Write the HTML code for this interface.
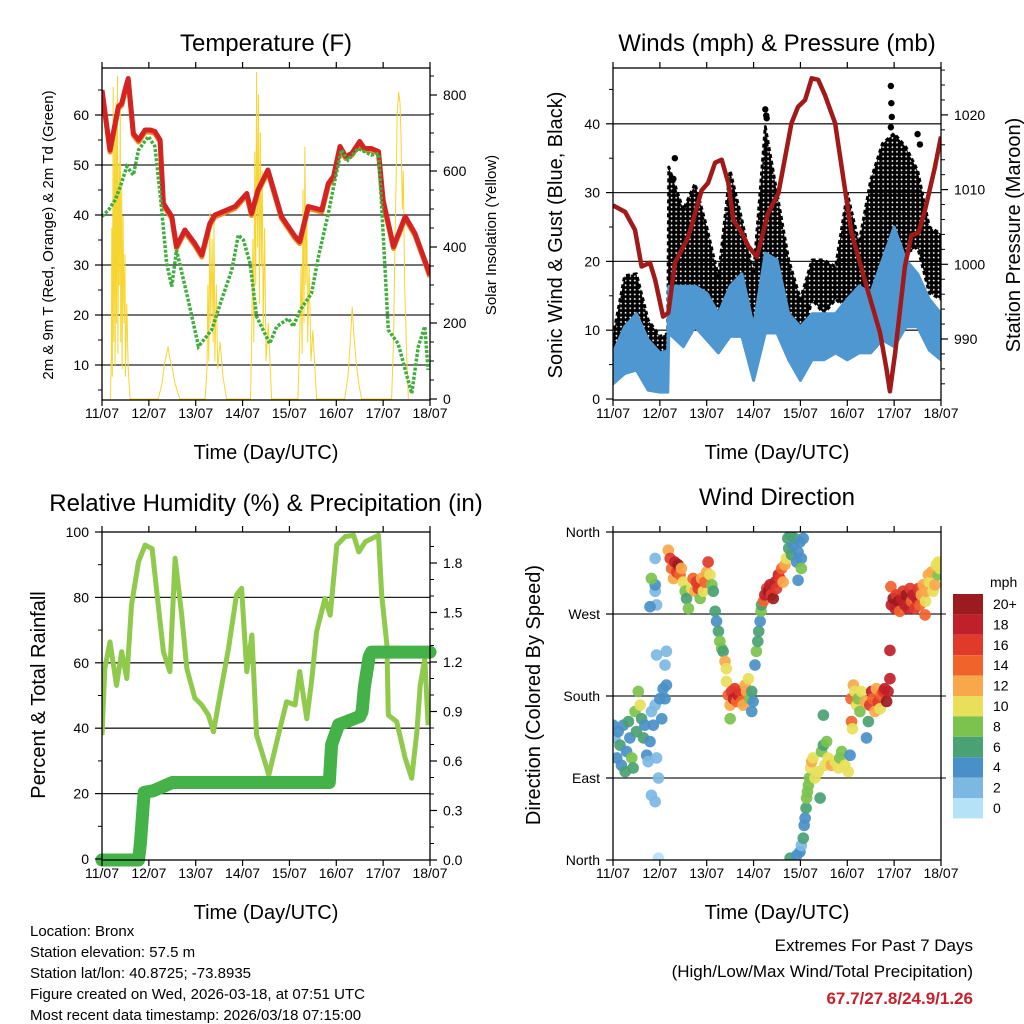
<!DOCTYPE html>
<html><head><meta charset="utf-8"><style>
html,body{margin:0;padding:0;background:#fff;}
svg{display:block;font-family:"Liberation Sans",Arial,sans-serif;}
</style></head><body>
<svg id="fig" width="1024" height="1024" viewBox="0 0 1024 1024" xmlns="http://www.w3.org/2000/svg">
<rect x="0" y="0" width="1024" height="1024" fill="#fff"/>
<defs>
<clipPath id="c1"><rect x="102" y="68" width="328" height="332"/></clipPath>
<clipPath id="c2"><rect x="613" y="68" width="328" height="332"/></clipPath>
<clipPath id="c3"><rect x="102" y="532" width="328" height="328"/></clipPath>
<clipPath id="c4"><rect x="613" y="532" width="328" height="328"/></clipPath>
<pattern id="dots" width="4.6" height="4.6" patternUnits="userSpaceOnUse"><circle cx="2.3" cy="2.3" r="2.5" fill="#000"/></pattern>
</defs>
<text x="266" y="51" font-size="24" text-anchor="middle">Temperature (F)</text>
<text x="777" y="51" font-size="24" text-anchor="middle">Winds (mph) &amp; Pressure (mb)</text>
<text x="266" y="511" font-size="24" text-anchor="middle">Relative Humidity (%) &amp; Precipitation (in)</text>
<text x="777" y="505" font-size="24" text-anchor="middle">Wind Direction</text>
<text x="266" y="459" font-size="20" text-anchor="middle">Time (Day/UTC)</text>
<text x="777" y="459" font-size="20" text-anchor="middle">Time (Day/UTC)</text>
<text x="266" y="919" font-size="20" text-anchor="middle">Time (Day/UTC)</text>
<text x="777" y="919" font-size="20" text-anchor="middle">Time (Day/UTC)</text>
<text transform="translate(53,235) rotate(-90)" font-size="15" text-anchor="middle">2m &amp; 9m T (Red, Orange) &amp; 2m Td (Green)</text>
<text transform="translate(496,235) rotate(-90)" font-size="15" text-anchor="middle">Solar Insolation (Yellow)</text>
<text transform="translate(562,235) rotate(-90)" font-size="20" text-anchor="middle">Sonic Wind &amp; Gust (Blue, Black)</text>
<text transform="translate(1020,235) rotate(-90)" font-size="20" text-anchor="middle">Station Pressure (Maroon)</text>
<text transform="translate(45,695) rotate(-90)" font-size="20" text-anchor="middle">Percent &amp; Total Rainfall</text>
<text transform="translate(540,695) rotate(-90)" font-size="20" text-anchor="middle">Direction (Colored By Speed)</text>
<g font-size="15">
<text x="30" y="936">Location: Bronx</text>
<text x="30" y="957">Station elevation: 57.5 m</text>
<text x="30" y="978">Station lat/lon: 40.8725; -73.8935</text>
<text x="30" y="999">Figure created on Wed, 2026-03-18, at 07:51 UTC</text>
<text x="30" y="1020">Most recent data timestamp: 2026/03/18 07:15:00</text>
</g>
<g font-size="17" text-anchor="end">
<text x="973" y="951">Extremes For Past 7 Days</text>
<text x="973" y="977">(High/Low/Max Wind/Total Precipitation)</text>
<text x="973" y="1004" fill="#c8202a" font-weight="bold">67.7/27.8/24.9/1.26</text>
</g>
<g id="layer"></g>
</svg>
<script>
// ---------- data ----------
const dayLabels=["11/07","12/07","13/07","14/07","15/07","16/07","17/07","18/07"];
const tT=[0,0.17,0.35,0.42,0.49,0.56,0.67,0.78,0.92,1.03,1.13,1.24,1.31,1.49,1.59,1.77,1.98,2.13,2.3,2.41,2.84,3.09,3.19,3.33,3.54,3.83,4.12,4.22,4.4,4.69,4.83,4.94,5.08,5.2,5.33,5.5,5.6,5.75,5.9,6.0,6.22,6.47,6.68,6.86,7.0];
const tempV=[65,53,61.7,62.3,65,67.3,56.3,55,57,57,56.7,55,42.3,39.7,33.7,37,34.3,32,38.3,40,41.7,44.3,40.3,45,49,39.7,35.7,34.7,41.7,41,46.3,47.7,53.7,51.7,52.3,54.7,53.3,53.3,52.7,43,33.7,39.7,36.3,31.7,28];
const tdT=[0,0.14,0.28,0.39,0.53,0.67,0.78,0.99,1.13,1.24,1.38,1.49,1.59,1.84,2.06,2.34,2.55,2.77,2.91,3.02,3.16,3.3,3.58,3.73,3.98,4.08,4.23,4.47,4.62,4.83,4.97,5.11,5.25,5.47,5.75,5.9,5.97,6.11,6.32,6.61,6.75,6.89,6.96];
const tdV=[39.7,41,43,45.7,49.7,48,53,55.7,53.7,44.3,30.3,25.7,33,23,13.7,17,23,29,36,35,30.3,19.7,14.3,17.7,19.3,17.7,21,24.3,31.7,40.3,47,53,51,53.3,52,52.3,41.7,17,14.3,4.3,13.7,17.7,9];
const solarT=[0.18,0.2,0.21,0.22,0.24,0.25,0.27,0.28,0.3,0.31,0.33,0.34,0.36,0.37,0.39,0.4,0.42,0.43,0.45,0.47,0.49,0.5,0.53,0.56,0.6,
1.2,1.28,1.33,1.38,1.41,1.44,1.5,1.56,1.66,
2.2,2.24,2.26,2.28,2.3,2.32,2.35,2.37,2.39,2.41,2.44,2.47,2.52,2.58,2.66,
3.17,3.2,3.22,3.24,3.26,3.28,3.3,3.32,3.34,3.36,3.38,3.4,3.42,3.44,3.47,3.5,3.55,3.62,
4.18,4.22,4.25,4.27,4.29,4.31,4.33,4.35,4.37,4.39,4.42,4.46,4.5,4.58,
5.18,5.25,5.3,5.34,5.37,5.42,5.48,5.54,
6.18,6.22,6.25,6.28,6.3,6.33,6.36,6.38,6.41,6.43,6.46,6.5,6.54];
const solarV=[0,120,450,60,820,150,700,90,780,200,850,120,620,300,760,150,560,80,480,200,380,60,250,80,0,
0,40,90,120,137,110,80,40,0,
0,80,300,100,490,200,420,150,470,100,300,80,150,60,0,
0,200,420,150,650,300,860,400,800,250,700,350,600,180,450,100,200,0,
0,150,350,120,550,200,663,300,500,150,350,100,180,0,
0,60,150,242,180,100,40,0,
0,150,400,600,750,808,780,700,500,600,300,120,0];
const windT=[0,0.25,0.5,0.75,1.0,1.17,1.19,1.5,1.75,2.0,2.25,2.5,2.75,3.0,3.25,3.5,3.75,4.0,4.25,4.5,4.75,5.0,5.25,5.5,5.75,6.0,6.25,6.5,6.75,7.0];
const windLow=[2.2,3.7,4.2,1.3,1.0,1.0,9.6,7.6,10.5,8.6,6.7,9.1,9.1,2.7,9.6,9.6,5.7,2.7,5.7,5.7,6.7,5.7,6.7,6.7,8.6,7.6,10.5,10.5,7.1,5.7];
const windHigh=[6.7,10.5,12.4,8.6,6.7,7.0,16.4,16.4,16.4,15.4,12.4,16.4,18.2,10.5,21.2,20.2,12.4,10.5,12.4,12.4,12.4,14.5,16.4,15.4,20.2,25,20.2,18.2,14.5,12.4];
const gustLow=[4.8,6.7,7.6,5.7,4.8,4.8,14.5,15.4,13.5,12.4,10.5,16.4,15.4,7.6,20.2,20.2,12.4,7.6,14.5,12.4,14.5,13,12.4,15.4,18.2,22.1,21.2,22.1,15.4,14.5];
const gustHigh=[9.1,17.9,18.2,11.5,9.1,9.5,33.7,27.5,31.3,25,17.7,33.2,26,18.2,39.6,29.9,20.2,14.5,20.2,20.2,19.2,29.9,22.6,31.8,37.1,38.6,36.6,33.2,25,24];
const gustPeakT=[1.29,1.32,3.25,3.27,3.28,5.93,5.94,5.95,5.93,6.5,6.55];
const gustPeakV=[32,35,42.1,41.2,40.8,45.5,43,41,39.5,38.5,37];
const presT=[0,0.26,0.47,0.61,0.79,0.9,1.07,1.18,1.32,1.43,1.61,1.89,2.03,2.18,2.32,2.46,2.57,2.75,2.89,3.07,3.31,3.53,3.81,3.95,4.1,4.24,4.38,4.52,4.74,5.09,5.45,5.7,5.84,5.91,6.02,6.23,6.37,6.52,6.66,6.87,7.0];
const presV=[1007.9,1007,1004.6,999.7,1000.2,997.9,993,993.5,1000.2,1001.5,1003.7,1009.9,1010.9,1013.6,1014,1010.9,1005.9,1004.2,1002.4,1001,1006.9,1009.5,1018.9,1021.1,1022,1024.9,1024.7,1022.7,1018.9,1004.2,996.2,990.8,985.9,983,988.1,999.7,1003.9,1004.2,1007.3,1013,1017.1];
const rhT=[0,0.06,0.17,0.31,0.42,0.53,0.63,0.78,0.92,1.07,1.17,1.31,1.45,1.56,1.7,1.81,1.98,2.13,2.27,2.38,2.48,2.7,2.87,2.98,3.09,3.2,3.3,3.41,3.56,3.73,3.94,4.12,4.22,4.37,4.47,4.58,4.76,4.87,5.01,5.19,5.37,5.48,5.62,5.9,5.97,6.08,6.11,6.29,6.47,6.61,6.72,6.79,6.89,6.96];
const rhV=[37.9,58.3,66.4,53.1,63.4,55.2,77.6,90.9,96,94.9,81.7,63.4,57.3,92,74.6,58.3,49.2,47.1,44,38.9,47.1,64.4,80.7,82.8,57.3,68.5,37.9,32.8,25.7,35.9,48.1,47.1,57.3,42.9,54.1,69.5,79.7,74.6,96,98.6,99,93.9,97,99,80.7,65.4,44,42,30.8,24.7,38.9,53.1,61.3,40.9];
const precT=[0,0.78,0.82,0.87,0.9,1.1,1.5,4.85,4.9,5.05,5.5,5.55,5.6,5.7,5.75,7.0];
const precV=[0,0,0.1,0.3,0.41,0.42,0.47,0.47,0.7,0.82,0.87,0.9,1.05,1.23,1.26,1.26];
const wdDay=[0,.04,.08,.11,.15,.18,.22,.26,.29,.33,.36,.40,.43,.47,.50,.54,.58,.61,.65,.68,.72,.75,.79,.82,.86,.90,.93,.97,1.00,1.04,1.07,1.11,1.14,.90,.90,.93,.79,.90,.82,.93,.82,.90,.97,1.14,1.11,
1.18,1.22,1.25,1.29,1.32,1.36,1.39,1.43,1.46,1.50,1.54,1.57,1.61,1.68,1.71,1.75,1.78,1.82,1.86,1.89,1.93,1.96,2.00,2.03,2.07,2.11,2.14,
2.18,2.21,2.25,2.28,2.32,2.35,2.39,2.42,
2.42,2.46,2.50,2.53,2.57,2.60,2.64,2.67,2.71,2.74,2.78,2.82,2.85,2.89,2.92,2.96,2.99,2.96,2.50,
3.03,3.06,3.09,3.11,3.14,3.16,3.17,
3.21,3.24,3.28,3.31,3.35,3.38,3.42,3.46,3.49,3.53,3.56,3.60,3.63,3.67,3.70,
3.73,3.75,3.78,3.81,3.85,3.88,3.92,3.95,3.99,4.02,4.06,3.95,4.02,
3.78,3.92,3.99,4.02,4.06,4.08,4.10,4.12,4.13,4.15,4.17,4.19,4.22,4.24,4.27,4.31,4.38,4.42,4.45,4.49,4.52,4.56,4.59,4.66,4.74,4.81,4.84,4.88,4.95,5.02,5.06,4.49,
5.08,5.09,5.11,5.13,5.16,5.20,5.23,5.27,5.30,5.38,5.41,5.45,5.48,5.52,5.55,5.59,5.62,5.66,5.70,5.73,5.77,5.80,5.84,5.87,5.91,5.91,
5.93,5.94,5.98,6.02,6.05,6.09,6.12,6.16,6.19,6.23,6.26,6.30,6.34,6.37,6.41,6.44,6.48,6.52,6.55,6.58,6.62,6.66,6.67,6.69,6.73,6.76,6.80,6.83,6.87,6.90,6.94,6.97,6.94];
const wdDir=[148,134,112,141,126,104,148,97,119,152,134,112,101,163,141,185,170,155,134,148,115,108,130,163,148,170,112,90,177,155,188,214,229,331,295,280,278,302,309,225,71,64,2,192,177,
340,331,320,309,327,316,324,313,320,305,295,287,276,298,309,295,305,298,287,309,295,305,316,327,313,302,295,
273,262,251,240,232,229,218,210,
196,181,170,185,177,188,174,181,185,174,170,192,185,199,177,185,174,163,155,
214,229,240,251,262,273,280,
284,291,298,295,302,291,287,305,298,313,309,320,305,324,331,
353,342,357,335,346,353,327,338,349,331,353,307,320,
2,5,9,16,24,38,46,57,68,75,82,90,101,108,112,90,97,68,119,126,104,130,112,104,108,101,112,119,104,97,115,159,
177,152,144,192,185,170,177,163,185,174,134,152,170,185,177,163,188,174,166,181,185,188,174,185,199,230,
300,280,287,276,291,284,273,287,295,280,291,276,298,284,291,276,287,298,280,291,302,269,284,295,313,305,316,295,302,324,313,320,327];
const wdSpd=[4,2,4,4,6,4,4,6,4,6,4,8,6,8,6,8,10,6,6,4,4,2,4,2,4,2,2,2,4,4,4,2,2,2,2,2,4,4,8,2,2,2,0,4,4,
12,16,14,12,18,16,20,14,12,10,8,6,8,10,14,12,16,16,8,12,10,14,12,16,10,8,6,
6,4,6,8,8,6,12,10,
10,14,12,16,18,16,14,18,16,14,12,12,12,10,8,6,4,4,8,
4,8,6,6,4,8,6,
14,18,16,20,18,16,20,18,16,18,16,14,12,12,10,
6,6,6,6,4,6,4,4,4,4,4,4,8,
6,4,4,2,6,4,4,6,8,8,8,8,10,12,10,10,10,6,8,6,10,8,10,12,10,10,8,8,10,10,4,6,
14,14,10,12,10,10,8,8,10,12,4,6,16,18,14,12,12,16,10,14,16,18,20,18,18,18,
14,18,20,18,16,20,14,18,16,18,20,18,16,14,18,16,18,16,14,12,12,14,10,12,12,10,12,10,12,10,8,10,10];
const cbLabels=["20+","18","16","14","12","10","8","6","4","2","0"];
const cbColors=["#9b1b1e","#c0202a","#e03a2b","#f0642c","#f8a84a","#e8e05a","#7cc24e","#4aa173","#4a90c8","#7db8e3","#b6e2f7"];

// ---------- helpers ----------
const NS="http://www.w3.org/2000/svg";
const layer=document.getElementById("layer");
function mk(tag,attrs,parent){const e=document.createElementNS(NS,tag);for(const k in attrs)e.setAttribute(k,attrs[k]);(parent||layer).appendChild(e);return e;}
const P1={x0:102,x1:430,y0:68,y1:400},P2={x0:613,x1:941,y0:68,y1:400},P3={x0:102,x1:430,y0:532,y1:860},P4={x0:613,x1:941,y0:532,y1:860};
function xs(p,d){return p.x0+d*(p.x1-p.x0)/7;}
const yT=v=>415-5*v, ySol=v=>399-0.38*v, yW=v=>399-6.88*v, yP=v=>339-7.47*(v-990);
const yRH=v=>859-3.27*v, yPr=v=>860-165*v, yD=v=>860-v*328/360;
function pts(p,T,V,yf){return T.map((t,i)=>xs(p,t).toFixed(1)+","+yf(V[i]).toFixed(1)).join(" ");}
function spdColor(s){let i=10-Math.min(10,Math.floor(s/2));return cbColors[i];}

function grid(p,vals,yf,name){vals.forEach(v=>{const l=mk("line",{x1:p.x0,x2:p.x1,y1:yf(v),y2:yf(v),stroke:"#222","stroke-width":1.3});

});}
function frame(p,name){
 const r=mk("rect",{x:p.x0,y:p.y0,width:p.x1-p.x0,height:p.y1-p.y0,fill:"none",stroke:"#000","stroke-width":1.3});
 
 
 dayLabels.forEach((lab,i)=>{const x=xs(p,i);
  mk("line",{x1:x,x2:x,y1:p.y1,y2:p.y1+6,stroke:"#000","stroke-width":1.2});
  mk("line",{x1:x,x2:x,y1:p.y0,y2:p.y0-6,stroke:"#000","stroke-width":1.2});
  const t=mk("text",{x:x,y:p.y1+18,"font-size":14,"text-anchor":"middle"});t.textContent=lab;
  
  });
}
function leftAxis(p,vals,labels,yf,minor){
 vals.forEach((v,i)=>{const y=yf(v);mk("line",{x1:p.x0-7,x2:p.x0,y1:y,y2:y,stroke:"#000","stroke-width":1.2});
  const t=mk("text",{x:p.x0-13,y:y+5,"font-size":14,"text-anchor":"end"});t.textContent=labels[i];
  
  });
 (minor||[]).forEach(v=>{const y=yf(v);mk("line",{x1:p.x0-4,x2:p.x0,y1:y,y2:y,stroke:"#000","stroke-width":1});});
}
function rightAxis(p,vals,labels,yf,minor){
 vals.forEach((v,i)=>{const y=yf(v);mk("line",{x1:p.x1,x2:p.x1+7,y1:y,y2:y,stroke:"#000","stroke-width":1.2});
  const t=mk("text",{x:p.x1+13,y:y+5,"font-size":14});t.textContent=labels[i];
  
  });
 (minor||[]).forEach(v=>{const y=yf(v);mk("line",{x1:p.x1,x2:p.x1+4,y1:y,y2:y,stroke:"#000","stroke-width":1});});
}

// ---------- Panel 1: temperature ----------
grid(P1,[10,20,30,40,50,60],yT,'temperature-gridline');
const g1=mk("g",{"clip-path":"url(#c1)"});


const sol=mk("polyline",{points:pts(P1,solarT,solarV,ySol),fill:"none",stroke:"#f7d531","stroke-width":1,"stroke-linejoin":"round"},g1);


const t9=mk("polyline",{points:pts(P1,tT,tempV,yT),fill:"none",stroke:"#f08a24","stroke-width":5,"stroke-linejoin":"round",transform:"translate(0,2)"},g1);


const t2=mk("polyline",{points:pts(P1,tT,tempV,yT),fill:"none",stroke:"#d42323","stroke-width":5,"stroke-linejoin":"round"},g1);


const td=mk("polyline",{points:pts(P1,tdT,tdV,yT),fill:"none",stroke:"#3fae3f","stroke-width":3.5,"stroke-dasharray":"3 1.6"},g1);


frame(P1,'temperature-plot-frame');
leftAxis(P1,[10,20,30,40,50,60],["10","20","30","40","50","60"],yT,[5,15,25,35,45,55,65]);
rightAxis(P1,[0,200,400,600,800],["0","200","400","600","800"],ySol,[50,100,150,250,300,350,450,500,550,650,700,750,850]);

// ---------- Panel 2: winds ----------
grid(P2,[10,20,30,40],yW,'wind-gridline');
const g2=mk("g",{"clip-path":"url(#c2)"});


const gb=mk("polygon",{points:pts(P2,windT,gustHigh,yW)+" "+pts(P2,windT.slice().reverse(),gustLow.slice().reverse(),yW),fill:"url(#dots)",stroke:"#000","stroke-width":3,"stroke-dasharray":"4 3","stroke-linejoin":"round"},g2);


gustPeakT.forEach((t,i)=>{const c=mk("circle",{cx:xs(P2,t),cy:yW(gustPeakV[i]),r:3.2,fill:"#000"},g2);

});
const wb=mk("polygon",{points:pts(P2,windT,windHigh,yW)+" "+pts(P2,windT.slice().reverse(),windLow.slice().reverse(),yW),fill:"#4f97d0",stroke:"#4f97d0","stroke-width":3,"stroke-linejoin":"round"},g2);


const pl=mk("polyline",{points:pts(P2,presT,presV,yP),fill:"none",stroke:"#a01a1a","stroke-width":4.5,"stroke-linejoin":"round"},g2);


frame(P2,'winds-plot-frame');
leftAxis(P2,[0,10,20,30,40],["0","10","20","30","40"],yW,[5,15,25,35,45]);
rightAxis(P2,[990,1000,1010,1020],["990","1000","1010","1020"],yP,[984,986,988,992,994,996,998,1002,1004,1006,1008,1012,1014,1016,1018,1022,1024,1026]);

// ---------- Panel 3: humidity ----------
grid(P3,[20,40,60,80],yRH,'humidity-gridline');
const g3=mk("g",{"clip-path":"url(#c3)"});


const rh=mk("polyline",{points:pts(P3,rhT,rhV,yRH),fill:"none",stroke:"#8fca4c","stroke-width":5,"stroke-linejoin":"round"},g3);


const pr=mk("polyline",{points:pts(P3,precT,precV,yPr),fill:"none",stroke:"#45b149","stroke-width":13,"stroke-linejoin":"round","stroke-linecap":"round"},layer);


frame(P3,'humidity-plot-frame');
leftAxis(P3,[0,20,40,60,80,100],["0","20","40","60","80","100"],yRH,[10,30,50,70,90]);
rightAxis(P3,[0,0.3,0.6,0.9,1.2,1.5,1.8],["0.0","0.3","0.6","0.9","1.2","1.5","1.8"],yPr,[0.1,0.2,0.4,0.5,0.7,0.8,1.0,1.1,1.3,1.4,1.6,1.7,1.9]);

// ---------- Panel 4: wind direction ----------
grid(P4,[90,180,270],yD,'direction-gridline');
const g4=mk("g",{"clip-path":"url(#c4)"});


wdDay.forEach((d,i)=>{const c=mk("circle",{cx:xs(P4,d),cy:yD(wdDir[i]),r:5.8,fill:spdColor(wdSpd[i]),"fill-opacity":0.92},g4);

});
frame(P4,'direction-plot-frame');
leftAxis(P4,[0,90,180,270,360],["North","East","South","West","North"],yD,[]);
mk("line",{x1:P4.x1,x2:P4.x1+5,y1:yD(90),y2:yD(90),stroke:"#000"});
mk("line",{x1:P4.x1,x2:P4.x1+5,y1:yD(180),y2:yD(180),stroke:"#000"});
mk("line",{x1:P4.x1,x2:P4.x1+5,y1:yD(270),y2:yD(270),stroke:"#000"});
// colorbar
const mph=mk("text",{x:990,y:587,"font-size":14});mph.textContent="mph";


cbLabels.forEach((lab,i)=>{const y=594+i*20.4;
 const r=mk("rect",{x:953,y:y,width:30,height:20.4,fill:cbColors[i]});
 
 
 const t=mk("text",{x:993,y:y+15,"font-size":14});t.textContent=lab;
 
 });
</script>
</body></html>
